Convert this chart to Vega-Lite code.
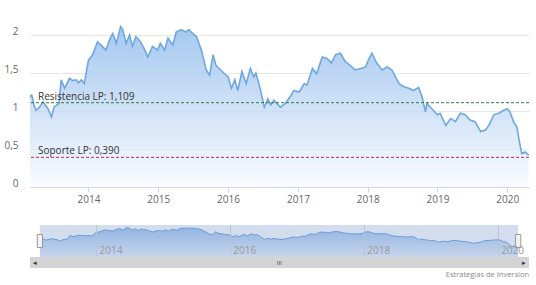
{
  "$schema": "https://vega.github.io/schema/vega-lite/v6.json",
  "padding": {"left": 3, "top": 16, "right": 8, "bottom": 0},
  "config": {"font": "Open Sans", "view": {"stroke": null}, "background": "#ffffff"},
  "datasets": {
    "series": [
      {"d": "2013-03-01", "v": 1.19}, {"d": "2013-03-10", "v": 1.21}, {"d": "2013-03-22", "v": 1.08}, {"d": "2013-04-01", "v": 1.01},
      {"d": "2013-04-20", "v": 1.05}, {"d": "2013-05-08", "v": 1.12}, {"d": "2013-05-20", "v": 1.08}, {"d": "2013-06-03", "v": 1.03},
      {"d": "2013-06-21", "v": 0.92}, {"d": "2013-07-05", "v": 1.05}, {"d": "2013-07-31", "v": 1.10},
      {"d": "2013-08-11", "v": 1.41}, {"d": "2013-08-29", "v": 1.30}, {"d": "2013-09-24", "v": 1.43},
      {"d": "2013-10-10", "v": 1.40}, {"d": "2013-10-27", "v": 1.41}, {"d": "2013-11-10", "v": 1.37}, {"d": "2013-11-25", "v": 1.41}, {"d": "2013-12-10", "v": 1.36},
      {"d": "2014-01-01", "v": 1.67}, {"d": "2014-01-23", "v": 1.74}, {"d": "2014-02-17", "v": 1.91},
      {"d": "2014-03-15", "v": 1.85}, {"d": "2014-04-02", "v": 1.80}, {"d": "2014-04-20", "v": 1.93}, {"d": "2014-05-08", "v": 2.02},
      {"d": "2014-05-27", "v": 1.89}, {"d": "2014-06-18", "v": 2.11}, {"d": "2014-06-29", "v": 2.07},
      {"d": "2014-07-17", "v": 1.89}, {"d": "2014-08-04", "v": 2.00}, {"d": "2014-08-19", "v": 1.85},
      {"d": "2014-09-06", "v": 1.98}, {"d": "2014-10-01", "v": 1.91}, {"d": "2014-10-23", "v": 1.80},
      {"d": "2014-11-07", "v": 1.71}, {"d": "2014-12-02", "v": 1.85}, {"d": "2014-12-28", "v": 1.80},
      {"d": "2015-01-12", "v": 1.89}, {"d": "2015-02-03", "v": 1.80}, {"d": "2015-02-21", "v": 1.96},
      {"d": "2015-03-18", "v": 1.87}, {"d": "2015-04-05", "v": 2.04}, {"d": "2015-05-01", "v": 2.07},
      {"d": "2015-05-26", "v": 2.04}, {"d": "2015-06-10", "v": 2.07}, {"d": "2015-06-21", "v": 2.04}, {"d": "2015-07-20", "v": 1.98},
      {"d": "2015-08-15", "v": 1.80}, {"d": "2015-09-09", "v": 1.54}, {"d": "2015-09-27", "v": 1.47},
      {"d": "2015-10-15", "v": 1.74}, {"d": "2015-10-30", "v": 1.60}, {"d": "2015-11-24", "v": 1.54}, {"d": "2015-12-10", "v": 1.50},
      {"d": "2016-01-01", "v": 1.45}, {"d": "2016-01-19", "v": 1.30}, {"d": "2016-02-06", "v": 1.41},
      {"d": "2016-02-21", "v": 1.27}, {"d": "2016-03-14", "v": 1.52}, {"d": "2016-04-05", "v": 1.36},
      {"d": "2016-04-27", "v": 1.56}, {"d": "2016-05-15", "v": 1.45}, {"d": "2016-05-26", "v": 1.50},
      {"d": "2016-06-17", "v": 1.30}, {"d": "2016-07-09", "v": 1.05}, {"d": "2016-07-27", "v": 1.16},
      {"d": "2016-08-12", "v": 1.08}, {"d": "2016-08-29", "v": 1.14}, {"d": "2016-10-01", "v": 1.05}, {"d": "2016-10-27", "v": 1.10},
      {"d": "2016-11-22", "v": 1.19}, {"d": "2016-12-10", "v": 1.27}, {"d": "2017-01-08", "v": 1.25},
      {"d": "2017-02-03", "v": 1.36}, {"d": "2017-02-17", "v": 1.34}, {"d": "2017-03-18", "v": 1.56},
      {"d": "2017-04-09", "v": 1.49}, {"d": "2017-05-08", "v": 1.71}, {"d": "2017-06-03", "v": 1.69},
      {"d": "2017-06-25", "v": 1.63}, {"d": "2017-07-17", "v": 1.74}, {"d": "2017-08-11", "v": 1.76},
      {"d": "2017-09-06", "v": 1.65}, {"d": "2017-10-01", "v": 1.60}, {"d": "2017-10-27", "v": 1.54},
      {"d": "2017-11-25", "v": 1.56}, {"d": "2017-12-21", "v": 1.58}, {"d": "2018-01-08", "v": 1.69},
      {"d": "2018-01-23", "v": 1.76}, {"d": "2018-02-17", "v": 1.63}, {"d": "2018-03-18", "v": 1.54},
      {"d": "2018-04-13", "v": 1.58}, {"d": "2018-05-08", "v": 1.54}, {"d": "2018-05-26", "v": 1.45},
      {"d": "2018-06-14", "v": 1.36}, {"d": "2018-07-09", "v": 1.32}, {"d": "2018-08-04", "v": 1.30},
      {"d": "2018-08-29", "v": 1.27}, {"d": "2018-09-24", "v": 1.31}, {"d": "2018-10-12", "v": 1.19},
      {"d": "2018-10-30", "v": 0.99}, {"d": "2018-11-07", "v": 1.10}, {"d": "2018-12-02", "v": 1.03},
      {"d": "2019-01-01", "v": 0.95}, {"d": "2019-01-15", "v": 0.97}, {"d": "2019-02-14", "v": 0.81},
      {"d": "2019-03-11", "v": 0.90}, {"d": "2019-04-05", "v": 0.86}, {"d": "2019-05-01", "v": 0.97},
      {"d": "2019-05-26", "v": 0.95}, {"d": "2019-06-21", "v": 0.88}, {"d": "2019-07-17", "v": 0.86},
      {"d": "2019-08-15", "v": 0.73}, {"d": "2019-09-09", "v": 0.75}, {"d": "2019-09-27", "v": 0.81},
      {"d": "2019-10-23", "v": 0.95}, {"d": "2019-11-18", "v": 0.97}, {"d": "2019-12-14", "v": 1.01},
      {"d": "2020-01-01", "v": 1.03}, {"d": "2020-01-15", "v": 0.99}, {"d": "2020-02-03", "v": 0.86},
      {"d": "2020-02-21", "v": 0.79}, {"d": "2020-03-03", "v": 0.62}, {"d": "2020-03-17", "v": 0.44},
      {"d": "2020-04-04", "v": 0.46}, {"d": "2020-04-22", "v": 0.42}
    ],
    "levels": [
      {"name": "Resistencia LP: 1,109", "v": 1.109},
      {"name": "Soporte LP: 0,390", "v": 0.39}
    ],
    "range": [{"s": "2013-03-01", "e": "2020-04-22"}],
    "track": [{"s": "2013-01-06", "e": "2020-06-20"}]
  },
  "vconcat": [
    {
      "width": 499,
      "height": 171,
      "layer": [
        {
          "data": {"name": "series"},
          "mark": {
            "type": "area",
            "color": {"gradient": "linear", "x1": 0, "y1": 0, "x2": 0, "y2": 1,
              "stops": [{"offset": 0, "color": "#7fb0e8"}, {"offset": 1, "color": "#f7faff"}]},
            "line": {"color": "#6fa7e0", "strokeWidth": 1.6}
          },
          "encoding": {
            "x": {"field": "d", "type": "temporal",
              "scale": {"domain": ["2013-03-01", "2020-04-24"]},
              "axis": {"title": null, "format": "%Y", "tickCount": {"interval": "year", "step": 1},
                "grid": false, "domainColor": "#ccd6eb", "tickColor": "#ccd6eb", "tickSize": 5,
                "labelColor": "#666666", "labelFontSize": 10, "labelPadding": 2, "labelFlush": false}},
            "y": {"field": "v", "type": "quantitative",
              "scale": {"domain": [0, 2.25], "nice": false, "zero": true},
              "axis": {"title": null, "values": [0, 0.5, 1, 1.5, 2], "format": ".1~f",
                "labelExpr": "replace(datum.label, '.', ',')",
                "domain": false, "ticks": false, "labelPadding": 12, "labelOffset": -4,
                "gridColor": "#e6e6e6", "labelColor": "#666666", "labelFontSize": 10}}
          }
        },
        {
          "data": {"name": "levels"},
          "mark": {"type": "rule", "strokeDash": [3, 2], "strokeWidth": 1},
          "encoding": {
            "y": {"field": "v", "type": "quantitative"},
            "color": {"field": "name", "type": "nominal", "legend": null,
              "scale": {"domain": ["Resistencia LP: 1,109", "Soporte LP: 0,390"], "range": ["#2f7a40", "#c2285a"]}}
          }
        },
        {
          "data": {"name": "levels"},
          "mark": {"type": "text", "align": "left", "baseline": "alphabetic", "dx": 8, "dy": -3,
            "fontSize": 10, "color": "#333333"},
          "encoding": {
            "x": {"datum": {"year": 2013, "month": 3, "date": 1}, "type": "temporal"},
            "y": {"field": "v", "type": "quantitative"},
            "text": {"field": "name"}
          }
        }
      ]
    },
    {
      "spacing": 0,
      "vconcat": [
        {
          "width": 499,
          "height": 32,
          "layer": [
            {
              "data": {"name": "series"},
              "mark": {
                "type": "area",
                "color": {"gradient": "linear", "x1": 0, "y1": 0, "x2": 0, "y2": 1,
                  "stops": [{"offset": 0, "color": "#7fb0e8"}, {"offset": 1, "color": "#e6f0fb"}]},
                "line": {"color": "#6fa7e0", "strokeWidth": 1}
              },
              "encoding": {
                "x": {"field": "d", "type": "temporal",
                  "scale": {"domain": ["2013-01-06", "2020-06-20"]},
                  "axis": {"title": null, "format": "%Y", "tickCount": {"interval": "year", "step": 2},
                    "grid": true, "gridColor": "#b8c4d6", "gridWidth": 1, "domain": false, "ticks": false,
                    "labelAlign": "left", "labelBaseline": "alphabetic", "labelPadding": -4, "labelOffset": 3,
                    "labelColor": "#999999", "labelFontSize": 10, "labelFlush": false, "zindex": 1}},
                "y": {"field": "v", "type": "quantitative",
                  "scale": {"domain": [-0.5, 2.34], "nice": false, "zero": false}, "axis": null},
                "y2": {"datum": -0.5}
              }
            },
            {
              "data": {"name": "range"},
              "mark": {"type": "rect", "color": "#6685c2", "opacity": 0.28},
              "encoding": {
                "x": {"field": "s", "type": "temporal"},
                "x2": {"field": "e"}
              }
            },
            {
              "data": {"name": "range"},
              "mark": {"type": "point", "shape": "M -0.4 -1 L 0.4 -1 L 0.4 1 L -0.4 1 Z", "size": 170,
                "filled": true, "fill": "#f2f2f2", "stroke": "#999999", "strokeWidth": 1, "opacity": 1},
              "encoding": {"x": {"field": "s", "type": "temporal"}}
            },
            {
              "data": {"name": "range"},
              "mark": {"type": "point", "shape": "M -0.4 -1 L 0.4 -1 L 0.4 1 L -0.4 1 Z", "size": 170,
                "filled": true, "fill": "#f2f2f2", "stroke": "#999999", "strokeWidth": 1, "opacity": 1},
              "encoding": {"x": {"field": "e", "type": "temporal"}}
            }
          ]
        },
        {
          "width": 499,
          "height": 11,
          "title": {"text": "Estrategias de Inversion", "orient": "bottom", "anchor": "end",
            "fontSize": 7.5, "fontWeight": "normal", "color": "#888888", "offset": 3},
          "layer": [
            {
              "data": {"name": "track"},
              "mark": {"type": "rect", "color": "#d4d4d4"},
              "encoding": {
                "x": {"field": "s", "type": "temporal", "scale": {"domain": ["2013-01-06", "2020-06-20"]}, "axis": null},
                "x2": {"field": "e"}
              }
            },
            {
              "data": {"name": "track"},
              "mark": {"type": "text", "text": "◂", "fontSize": 7, "color": "#333333", "dx": 5, "align": "center", "baseline": "middle"},
              "encoding": {"x": {"field": "s", "type": "temporal"}}
            },
            {
              "data": {"name": "track"},
              "mark": {"type": "text", "text": "▸", "fontSize": 7, "color": "#333333", "dx": -5, "align": "center", "baseline": "middle"},
              "encoding": {"x": {"field": "e", "type": "temporal"}}
            },
            {
              "data": {"name": "track"},
              "mark": {"type": "text", "text": "III", "fontSize": 6, "color": "#333333", "align": "center", "baseline": "middle"},
              "encoding": {"x": {"datum": {"year": 2016, "month": 9, "date": 27}, "type": "temporal"}}
            }
          ]
        }
      ]
    }
  ],
  "spacing": 21
}
